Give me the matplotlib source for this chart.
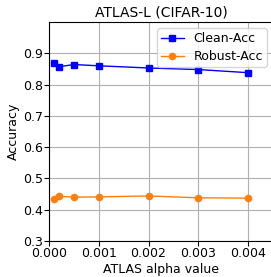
import matplotlib
matplotlib.use("Agg")
import matplotlib.pyplot as plt

alphas = [0.0001, 0.0002, 0.0005, 0.001, 0.002, 0.003, 0.004]
clean_acc = [0.868, 0.857, 0.864, 0.860, 0.853, 0.848, 0.838]
robust_acc = [0.435, 0.443, 0.440, 0.441, 0.444, 0.438, 0.437]

fig = plt.figure(figsize=(2.71, 2.77), dpi=100)
# the right side of the axes runs past the edge of the image, as in the original
ax = fig.add_axes([49 / 271, 1 - 241 / 277, 224 / 271, 219 / 277])

ax.plot(alphas, clean_acc, color="blue", marker="s", markersize=4.5, linewidth=1, label="Clean-Acc")
ax.plot(alphas, robust_acc, color="#ff7f0e", marker="o", markersize=4.5, linewidth=1, label="Robust-Acc")

ax.set_xlim(0, 0.0045)
ax.set_ylim(0.3, 1.0)
ax.set_xticks([0.0, 0.001, 0.002, 0.003, 0.004])
ax.set_xticklabels(["0.000", "0.001", "0.002", "0.003", "0.004"])
ax.set_yticks([0.3, 0.4, 0.5, 0.6, 0.7, 0.8, 0.9])
ax.tick_params(labelsize=9, pad=1)
ax.grid(True)
ax.set_xlabel("ATLAS alpha value", fontsize=9, labelpad=2)
ax.set_ylabel("Accuracy", fontsize=9, labelpad=2)
ax.set_title("ATLAS-L (CIFAR-10)", fontsize=10, pad=4)
ax.legend(loc="upper right", fontsize=9, borderpad=0.3, labelspacing=0.4, handlelength=1.8)

fig.savefig("out.png", dpi=100)
